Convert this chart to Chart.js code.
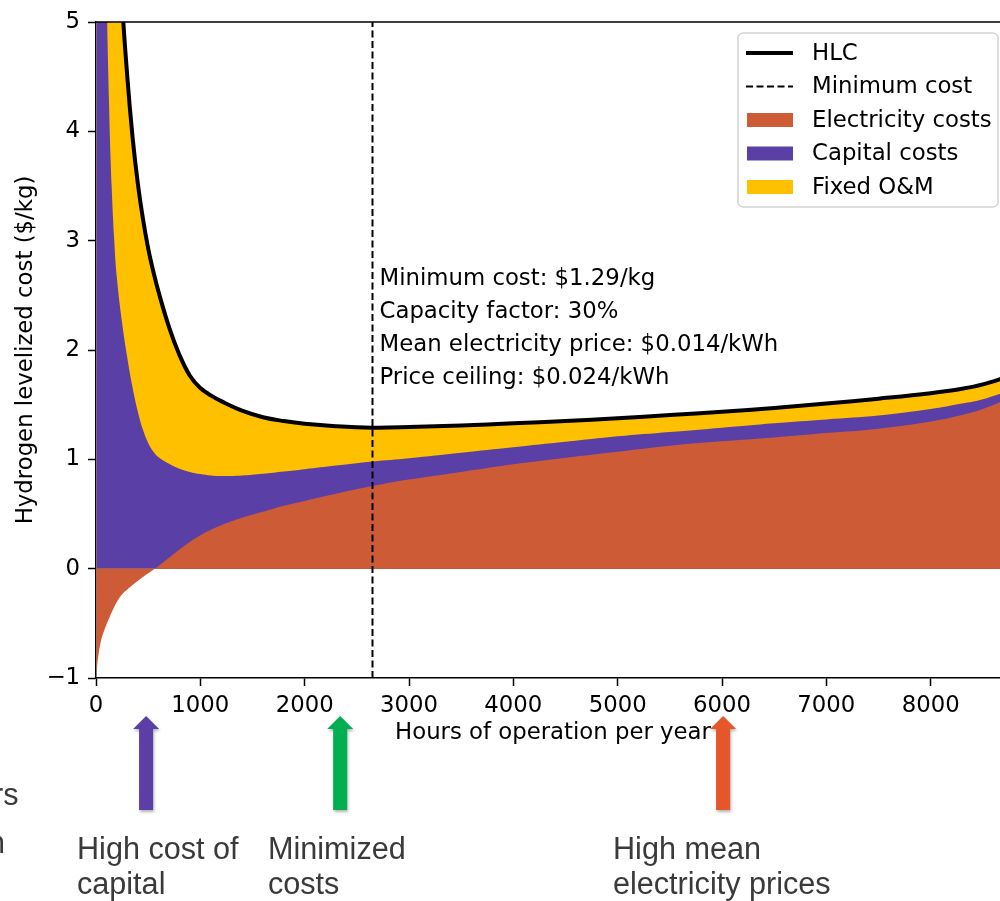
<!DOCTYPE html>
<html><head><meta charset="utf-8">
<script src="https://cdn.jsdelivr.net/npm/chart.js@4.4.1/dist/chart.umd.min.js"></script>
<style>
html,body{margin:0;padding:0;background:#fff;overflow:hidden;width:1000px;height:901px;}
#wrap{position:relative;width:1000px;height:901px;overflow:hidden;}
canvas{position:absolute;left:0;top:0;}
.note{position:absolute;font-family:"Liberation Sans",Arial,sans-serif;font-size:30.6px;line-height:35px;color:#3a3a3a;white-space:nowrap;}
</style></head>
<body><div id="wrap">
<canvas id="c" width="1015" height="901" style="width:1015px;height:901px"></canvas>
<div class="note" style="left:-7px;top:777px">rs</div>
<div class="note" style="left:-12px;top:825px">n</div>
<div class="note" style="left:77px;top:831px">High cost of<br>capital</div>
<div class="note" style="left:268px;top:831px">Minimized<br>costs</div>
<div class="note" style="left:613px;top:831px">High mean<br>electricity prices</div>
</div>
<script>
// ---- data ----
const hours = [2,10,25,50,75,100,125,150,175,200,250,300,350,400,450,500,550,600,700,800,900,1000,1100,1200,1400,1600,1800,2000,2300,2650,3000,3500,4000,4500,5000,5500,6000,6500,7000,7500,8000,8300,8500,8760];
const electricity = [-1.0,-0.90,-0.78,-0.65,-0.575,-0.51,-0.455,-0.40,-0.35,-0.305,-0.235,-0.19,-0.15,-0.113,-0.077,-0.043,-0.01,0.025,0.10,0.175,0.245,0.305,0.355,0.397,0.465,0.52,0.575,0.62,0.685,0.755,0.815,0.885,0.955,1.015,1.07,1.125,1.165,1.20,1.24,1.28,1.345,1.405,1.46,1.56];
const capital = [251,50.9,21.78,11.65,7.975,5.91,4.705,3.90,3.35,2.965,2.485,2.12,1.81,1.553,1.347,1.193,1.08,0.995,0.86,0.74,0.64,0.56,0.497,0.45,0.387,0.348,0.313,0.29,0.258,0.225,0.195,0.175,0.155,0.145,0.14,0.125,0.125,0.13,0.125,0.12,0.115,0.105,0.09,0.07];
const fixedOM = [270,60,27,14,9.9,7.6,6.25,5.2,4.4,3.74,2.95,2.57,2.29,2.09,1.93,1.78,1.645,1.51,1.25,1.04,0.88,0.787,0.733,0.685,0.593,0.517,0.462,0.415,0.36,0.31,0.285,0.25,0.22,0.19,0.165,0.155,0.145,0.14,0.145,0.155,0.145,0.135,0.135,0.135];
const minCostHours = 2650;
const xTickValues = [0,1000,2000,3000,4000,5000,6000,7000,8000];
const yTickValues = [-1,0,1,2,3,4,5];
const annotLines = ["Minimum cost: $1.29/kg","Capacity factor: 30%","Mean electricity price: $0.014/kWh","Price ceiling: $0.024/kWh"];
const annotAnchor = 2.65;
const arrowNotes = [{hours:480,color:"#5B3FA6"},{hours:2340,color:"#00B050"},{hours:6010,color:"#E5562A"}];

const COL_E = "#CD5C36", COL_C = "#5A40A6", COL_F = "#FFC000";
const FS = 22.8;

// stacked boundaries built from the component series
const capTop = electricity.map((e,i)=>e+capital[i]);
const hlc = capTop.map((t,i)=>t+fixedOM[i]);
const pts = arr => hours.map((h,i)=>({x:h,y:arr[i]}));

const overlay = {
  id:'overlay',
  afterDraw(chart){
    const {ctx, chartArea:a, scales:{x,y}} = chart;
    ctx.save();
    ctx.strokeStyle='#000'; ctx.lineWidth=1.5; ctx.setLineDash([]);
    ctx.beginPath(); ctx.moveTo(a.left,a.top); ctx.lineTo(a.right,a.top); ctx.lineTo(a.right,a.bottom); ctx.stroke();
    // annotation text
    ctx.font=FS+'px "DejaVu Sans"'; ctx.fillStyle='#000'; ctx.textBaseline='middle'; ctx.textAlign='left';
    const ax = x.getPixelForValue(minCostHours)+7, ay = y.getPixelForValue(annotAnchor);
    annotLines.forEach((t,i)=>ctx.fillText(t, ax, ay+i*33));
    // legend
    const w=260,h=174, x0=a.right-12-w, y0=a.top+11;
    ctx.beginPath(); ctx.roundRect(x0,y0,w,h,5);
    ctx.fillStyle='rgba(255,255,255,0.85)'; ctx.fill();
    ctx.strokeStyle='#d4d4d4'; ctx.lineWidth=1.5; ctx.stroke();
    const ds = chart.data.datasets;
    ds.forEach((d,i)=>{
      const cy = y0+20+i*33.5;
      if(d.legendKind==='line'){
        ctx.strokeStyle=d.borderColor; ctx.lineWidth=d.borderWidth; ctx.setLineDash(d.borderDash||[]);
        ctx.beginPath(); ctx.moveTo(x0+8,cy); ctx.lineTo(x0+55,cy); ctx.stroke(); ctx.setLineDash([]);
      } else {
        ctx.fillStyle=d.backgroundColor; ctx.fillRect(x0+9,cy-7,46,14);
      }
      ctx.fillStyle='#000'; ctx.fillText(d.label, x0+74, cy+1);
    });
    // arrows below the axis
    arrowNotes.forEach(n=>{
      const cx = x.getPixelForValue(n.hours);
      ctx.save();
      ctx.shadowColor='rgba(0,0,0,0.3)'; ctx.shadowBlur=3; ctx.shadowOffsetX=1; ctx.shadowOffsetY=2;
      ctx.fillStyle=n.color;
      ctx.beginPath();
      ctx.moveTo(cx,716); ctx.lineTo(cx+13,729); ctx.lineTo(cx+7,729); ctx.lineTo(cx+7,810);
      ctx.lineTo(cx-7,810); ctx.lineTo(cx-7,729); ctx.lineTo(cx-13,729); ctx.closePath(); ctx.fill();
      ctx.restore();
    });
    ctx.restore();
  }
};

Chart.defaults.font.family='"DejaVu Sans"';
Chart.defaults.font.size=FS;
Chart.defaults.color='#000';

const smooth = {tension:0.4, capBezierPoints:false};

new Chart(document.getElementById('c'),{
  type:'line',
  data:{datasets:[
    Object.assign({label:'HLC', legendKind:'line', data:pts(hlc), borderColor:'#000', borderWidth:4, fill:false}, smooth),
    {label:'Minimum cost', legendKind:'line', data:[{x:minCostHours,y:-1},{x:minCostHours,y:5}], borderColor:'#000', borderWidth:2, borderDash:[7,3.5], fill:false, tension:0},
    Object.assign({label:'Electricity costs', data:pts(electricity), backgroundColor:COL_E, borderColor:'transparent', borderWidth:0, fill:'origin'}, smooth),
    Object.assign({label:'Capital costs', data:pts(capTop), backgroundColor:COL_C, borderColor:'transparent', borderWidth:0, fill:'origin'}, smooth),
    Object.assign({label:'Fixed O&M', data:pts(hlc), backgroundColor:COL_F, borderColor:'transparent', borderWidth:0, fill:'origin'}, smooth)
  ]},
  options:{
    responsive:false, animation:false, devicePixelRatio:1,
    layout:{padding:{left:0,top:22,right:5,bottom:153}},
    elements:{point:{radius:0,hoverRadius:0},line:{capBezierPoints:false}},
    plugins:{legend:{display:false},tooltip:{enabled:false}},
    events:[],
    scales:{
      x:{type:'linear',min:0,max:8760,
        afterFit(s){s.height=70;},
        afterBuildTicks(s){s.ticks=xTickValues.map(v=>({value:v}));},
        ticks:{padding:6,font:{size:FS},color:'#000',callback:v=>String(v)},
        grid:{display:true,drawOnChartArea:false,drawTicks:true,tickLength:8,tickColor:'#000',tickWidth:1.5},
        border:{display:true,color:'#000',width:1.5},
        title:{display:true,text:'Hours of operation per year',font:{size:FS},color:'#000',padding:{top:0,bottom:1}}
      },
      y:{type:'linear',min:-1,max:5,
        afterFit(s){s.width=96;},
        afterBuildTicks(s){s.ticks=yTickValues.map(v=>({value:v}));},
        ticks:{padding:8,font:{size:FS},color:'#000',callback:v=>v<0?'\u2212'+Math.abs(v):String(v)},
        grid:{display:true,drawOnChartArea:false,drawTicks:true,tickLength:8,tickColor:'#000',tickWidth:1.5},
        border:{display:true,color:'#000',width:1.5},
        title:{display:true,text:'Hydrogen levelized cost ($/kg)',font:{size:FS},color:'#000',padding:{top:12,bottom:0}}
      }
    }
  },
  plugins:[overlay]
});
</script>
</body></html>
